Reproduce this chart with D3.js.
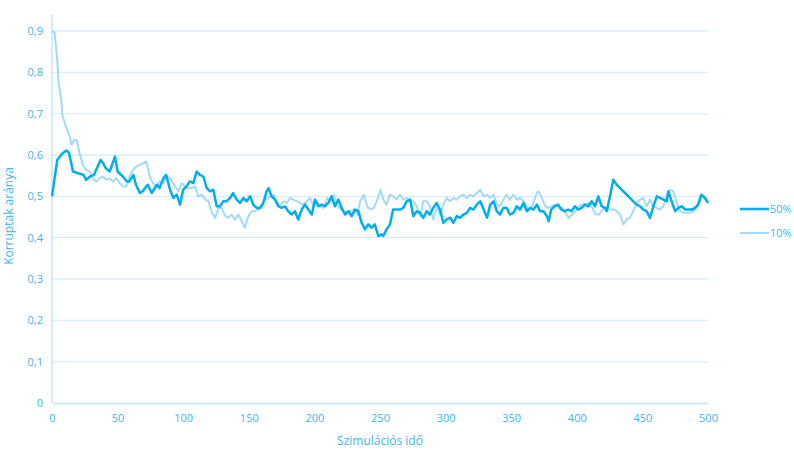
<!DOCTYPE html>
<html><head><meta charset="utf-8">
<script src="https://cdn.jsdelivr.net/npm/d3@7"></script>
<style>body{margin:0;background:#fff}svg{display:block}text{font-family:"Open Sans",sans-serif}</style>
</head><body><svg id="c" width="794" height="450"></svg>
<script>
const seriesNames = ["50%", "10%"];
const xTicks = [0,50,100,150,200,250,300,350,400,450,500];
const yTicks = [0,0.1,0.2,0.3,0.4,0.5,0.6,0.7,0.8,0.9];
const t50 = [0,4,8,11,13,16,20,24,26,29,32,37,39,41,44,48,50,54,57,59,62,64,67,69,73,76,80,82,85,87,90,92.5,95,97.6,100,102.6,105,107.7,110.3,112.8,115.3,118,120.4,123,125.5,128,130.6,133,135.7,138,140.8,143.3,145.8,148.4,151,153.4,156,158.5,161,163.6,165,167.4,170,172.5,175,177.6,180,182.7,185.2,187.7,190.3,192.8,195.4,198,200.5,203,205.6,208,210.6,213,215.7,218.3,220.8,223.3,226,228.4,231,233.5,236,238.6,241,243.7,246,248.8,251.3,252.5,255,257.6,260,262.7,265.2,267.8,270.3,273,275.4,278,280.5,283,285.6,288,290.6,293.2,295.7,298.3,300.8,303.4,306,308.5,311,313.6,316.2,318.7,321.3,323.8,326.4,329,331.6,334,336.6,339,341.5,344,346.6,349,351.7,354.3,356.8,359.4,362,364.5,367,369.6,372,374.6,377.2,378.5,380.5,383.2,385.7,388.3,390.8,393.4,396,398.6,401,403.7,406.2,408.8,411.4,413.9,416.4,419,421.5,422.8,425.3,427.8,430.4,433,435.5,438,440.5,443,445.7,448.2,450.7,453.3,455.8,458.4,461,463.4,466,468.6,469.8,472.3,475,477.4,480,482.6,485,487.6,490,492.6,495,497.7,500];
const v50 = [0.50,0.588,0.604,0.611,0.605,0.560,0.556,0.552,0.540,0.548,0.552,0.588,0.580,0.568,0.560,0.596,0.560,0.548,0.536,0.536,0.552,0.528,0.508,0.512,0.528,0.508,0.528,0.520,0.544,0.552,0.516,0.496,0.504,0.480,0.516,0.524,0.536,0.532,0.560,0.552,0.548,0.520,0.512,0.516,0.476,0.476,0.488,0.488,0.496,0.508,0.492,0.484,0.496,0.488,0.500,0.480,0.472,0.472,0.484,0.512,0.520,0.500,0.492,0.476,0.472,0.476,0.464,0.456,0.464,0.444,0.468,0.480,0.468,0.456,0.492,0.476,0.480,0.476,0.484,0.500,0.476,0.492,0.472,0.456,0.464,0.452,0.468,0.464,0.436,0.420,0.432,0.424,0.432,0.404,0.408,0.404,0.420,0.432,0.468,0.468,0.468,0.472,0.488,0.492,0.452,0.464,0.460,0.448,0.464,0.456,0.472,0.484,0.468,0.436,0.444,0.448,0.436,0.452,0.448,0.456,0.460,0.472,0.468,0.480,0.488,0.468,0.448,0.480,0.488,0.464,0.456,0.472,0.472,0.456,0.460,0.476,0.468,0.484,0.464,0.472,0.468,0.480,0.464,0.464,0.452,0.440,0.468,0.476,0.480,0.468,0.464,0.468,0.464,0.476,0.468,0.472,0.480,0.476,0.488,0.476,0.500,0.476,0.472,0.464,0.500,0.540,0.528,0.520,0.512,0.504,0.496,0.488,0.480,0.476,0.468,0.464,0.448,0.476,0.500,0.496,0.492,0.488,0.512,0.488,0.464,0.472,0.476,0.468,0.468,0.468,0.472,0.480,0.504,0.496,0.484];
const t10 = [0,2,4,5,7,8,11,13.5,15,17,19,21,23.6,26,28.7,31,33.8,36.3,38.9,41.4,44,46.5,49,51.6,54,56.6,59,61.7,64.3,66.8,69.4,71.9,74.5,77,79.5,82,84.9,87.4,90,93.8,96.4,98.8,101.4,103.9,106.5,109,111.6,114,116.8,119.3,121.9,124.4,127,129.3,132,134.4,137,139.5,142,144.6,147,149.6,152.2,154.7,157.3,160,162.4,165,167.5,168.7,171.3,173.8,176.4,179,181.5,184,186.7,189,191.7,194.2,196.8,199.4,202,204.5,207,209.6,212,214.7,217.2,220,222.3,224.9,227.4,230,232.6,235,237.7,240.2,242.8,245.3,248,250.4,252.5,255,257.6,260,262.7,265.2,267.8,270.3,273,275.4,278,280.5,283,285.6,288,290.6,293.2,295.7,298.3,300.8,303.4,306,308.5,311,313.6,316.2,318.7,321.3,323.8,326.4,329,331.6,334,336.6,339,341.5,344,346.6,349,351.7,354.3,356.8,359.4,362,364.5,367,369.6,370.8,373.4,376,378.5,381,383.6,386.2,388.7,391.3,393.8,396.4,399,401.5,404,406.7,409.2,411.8,414.4,417,419.5,422,425,428,430.4,433,435.5,438,440.5,443,445.7,448.2,450.7,453.3,455.8,458.4,461,463.4,466,468.6,471,473.5,476,478.7,481.2,483.8,486.3,489,491.4,494,496.5,499,500];
const v10 = [0.900,0.896,0.830,0.775,0.735,0.695,0.665,0.645,0.625,0.637,0.635,0.604,0.576,0.564,0.560,0.544,0.536,0.544,0.548,0.540,0.544,0.536,0.544,0.532,0.524,0.524,0.548,0.564,0.572,0.576,0.580,0.584,0.548,0.532,0.524,0.536,0.532,0.548,0.544,0.524,0.512,0.532,0.524,0.520,0.520,0.524,0.500,0.504,0.492,0.488,0.460,0.448,0.472,0.472,0.452,0.448,0.456,0.444,0.456,0.440,0.424,0.452,0.464,0.464,0.468,0.472,0.492,0.496,0.504,0.504,0.488,0.476,0.488,0.484,0.496,0.492,0.488,0.484,0.480,0.488,0.496,0.476,0.488,0.476,0.472,0.496,0.488,0.504,0.480,0.468,0.464,0.460,0.464,0.468,0.456,0.488,0.504,0.476,0.468,0.472,0.492,0.516,0.492,0.480,0.504,0.500,0.492,0.504,0.492,0.496,0.488,0.488,0.476,0.452,0.488,0.488,0.476,0.444,0.472,0.456,0.480,0.496,0.488,0.496,0.492,0.500,0.504,0.496,0.504,0.500,0.508,0.516,0.500,0.504,0.496,0.504,0.480,0.476,0.492,0.504,0.492,0.504,0.492,0.496,0.488,0.472,0.468,0.484,0.508,0.512,0.496,0.476,0.472,0.476,0.480,0.472,0.472,0.460,0.448,0.456,0.464,0.476,0.480,0.480,0.484,0.472,0.456,0.456,0.468,0.472,0.468,0.468,0.464,0.456,0.432,0.444,0.448,0.464,0.484,0.492,0.496,0.476,0.492,0.476,0.472,0.468,0.476,0.504,0.516,0.512,0.488,0.464,0.460,0.460,0.460,0.464,0.472,0.500,0.500,0.492,0.488];

const svg = d3.select("#c");
const x = d3.scaleLinear().domain([0,500]).range([52,708]);
const y = d3.scaleLinear().domain([0,0.9]).range([403,31]);
const tickCol = "#3db6ea", gridCol = "#d8eefa";
const fmt = d => d3.format(".1~f")(d).replace(".", ",");

// gridlines
svg.append("g").selectAll("line").data(yTicks.filter(d=>d>0)).join("line")
  .attr("x1",52).attr("x2",708).attr("y1",d=>y(d)).attr("y2",d=>y(d))
  .attr("stroke",gridCol).attr("stroke-width",1.3);

// axes
const yAxis = svg.append("g").attr("transform","translate(52,0)")
  .call(d3.axisLeft(y).tickValues(yTicks).tickFormat(fmt).tickSize(0).tickPadding(9));
const xAxis = svg.append("g").attr("transform","translate(0,403)")
  .call(d3.axisBottom(x).tickValues(xTicks).tickSize(0).tickPadding(11));
[yAxis,xAxis].forEach(a=>{
  a.select(".domain").attr("stroke","#c6e6f6").attr("stroke-width",1.5);
  a.selectAll("text").attr("fill",tickCol).style("font-size","11px").style("font-family","'Open Sans',sans-serif");
});
yAxis.select(".domain").attr("d","M0,403V14");

// lines
const d50 = t50.map((t,i)=>[t,v50[i]]);
const d10 = t10.map((t,i)=>[t,v10[i]]);
const line = d3.line().x(d=>x(d[0])).y(d=>y(d[1]));
svg.append("path").datum(d10).attr("d",line).attr("fill","none").attr("stroke","#a3daf6").attr("stroke-width",2).attr("stroke-linejoin","round");
svg.append("path").datum(d50).attr("d",line).attr("fill","none").attr("stroke","#00aeef").attr("stroke-width",2.5).attr("stroke-linejoin","round");

// titles
svg.append("text").attr("x",380).attr("y",445).attr("text-anchor","middle").attr("fill",tickCol).style("font-size","12px").text("Szimulációs idő");
svg.append("text").attr("transform","translate(13,216) rotate(-90)").attr("text-anchor","middle").attr("fill",tickCol).style("font-size","12px").text("Korruptak aránya");

// legend
const lg = svg.append("g");
const lcols = ["#00aeef","#a3daf6"], lw=[2.5,2];
seriesNames.forEach((n,i)=>{
  const yy = 209 + i*24;
  lg.append("line").attr("x1",740).attr("x2",769).attr("y1",yy).attr("y2",yy).attr("stroke",lcols[i]).attr("stroke-width",lw[i]);
  lg.append("text").attr("x",770).attr("y",yy+4).attr("fill",tickCol).style("font-size","11px").text(n);
});
</script></body></html>
